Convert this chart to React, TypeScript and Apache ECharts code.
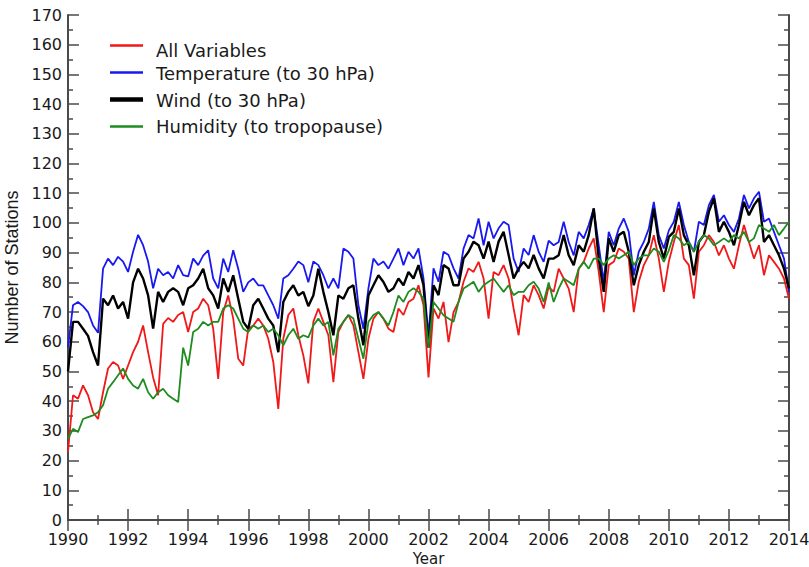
import React, { useEffect, useRef } from "react";
import * as echarts from "echarts";

// Samples every two months from 1990.0 to 2014.0
const START_YEAR = 1990;
const SAMPLES_PER_YEAR = 6;

const allVariables = [
  22.8, 42, 40.8, 45.3, 42, 36.3,
  34, 43, 51, 53.2, 52, 47.5,
  52, 56.5, 60, 65.5, 56.5, 48,
  42, 66, 68, 66.7, 69, 70,
  63.3, 70, 71.2, 74.5, 72.3, 64.4,
  47.5, 70, 75.6, 67.8, 54.3, 52,
  64.4, 65.5, 67.8, 65.5, 61, 53.2,
  37.4, 61, 69, 71.2, 62.2, 55.4,
  46, 66.7, 71.2, 66.7, 62.2, 46.4,
  63.3, 66.7, 69, 65.5, 56.5, 47.5,
  61, 67.8, 70, 67.8, 64.4, 63.3,
  71.2, 69, 73.4, 74.5, 79, 72.3,
  48, 71.2, 67.8, 73.4, 59.9, 70,
  73.4, 80.2, 84.7, 83.5, 86.9, 81.3,
  67.8, 83.5, 82.4, 85.8, 81.3, 71.2,
  62.2, 75.7, 73.4, 79, 75.7, 71.2,
  78.5, 76.8, 84.6, 81.3, 77.9, 70,
  84.6, 86.9, 91.4, 94.8, 83.5, 70,
  85.8, 86.9, 91.4, 90.3, 88, 70,
  80.2, 85.8, 89.1, 95.9, 88, 76.8,
  87, 93.6, 99.3, 88, 85.8, 74.5,
  90.3, 92.5, 95.9, 93.6, 89.1, 92.5,
  88, 84.6, 92.5, 99.3, 93.6, 88,
  92.5, 82.4, 89.1, 86.9, 84.6, 81.3,
  74.5,
];

const temperature = [
  58, 72.3, 73.4, 72, 70, 65.5,
  63, 84.6, 88, 85.8, 88.6, 87,
  83.5, 90.3, 96, 92.5, 87, 78,
  84.6, 82.4, 83.5, 81.3, 85.8, 82.4,
  82, 88, 85.8, 89, 90.8, 81.3,
  78, 88, 83.5, 90.8, 84.6, 76.8,
  80, 81.3, 79, 79, 75.6, 72.3,
  67.8, 81.3, 82.4, 84.6, 87, 85.8,
  80, 87, 85.8, 82.4, 78, 81.3,
  78, 91.4, 90.3, 88, 72.3, 64.4,
  78, 88, 85.8, 87, 84.6, 88,
  91.4, 85.8, 90.3, 88, 91.4, 81.3,
  62, 84.7, 80.2, 90.3, 89.2, 84.7,
  81.3, 91.4, 95.9, 94.8, 101.5, 92.5,
  100.4, 94.8, 98.2, 100.4, 99.3, 88,
  83.5, 91.4, 89.2, 95.9, 90.3, 86.9,
  94, 92.5, 93.6, 100.4, 93.6, 89.1,
  97, 94.8, 99.3, 104.9, 92.5, 80.2,
  97, 92.5, 98.1, 101.5, 97, 82.4,
  90.3, 93.6, 98.1, 107.1, 95.9, 91.4,
  97.5, 100.4, 107.1, 99.3, 93.6, 90.3,
  100.4, 99.3, 106, 109.4, 100.4, 102.6,
  99.3, 97, 101.5, 109.4, 104.9, 108.3,
  110.5, 100.4, 101.5, 97, 92.5, 88,
  76.8,
];

const wind = [
  50, 66.7, 66.7, 64.4, 62, 56.5,
  52, 74.5, 72.3, 75.6, 71.2, 73.4,
  67.8, 80, 84.6, 81.3, 75.6, 64.4,
  76.8, 73.4, 76.8, 78, 76.8, 72.3,
  78, 79, 81.3, 84.6, 78, 75.6,
  71.2, 81.3, 76.8, 82.4, 74.5, 66.7,
  64.4, 72.3, 74.5, 71.2, 67.8, 65.5,
  56.5, 73.4, 76.8, 79, 75.6, 76.8,
  72, 75.6, 84.6, 76.8, 70, 62.2,
  75.6, 74.5, 78, 79, 67.8, 58.8,
  75.6, 79, 82.4, 80.1, 76.8, 78,
  81.3, 79, 83.5, 81.3, 85.8, 79,
  58, 79, 75.7, 85.8, 84.7, 79,
  79, 88, 90.3, 93.7, 92.5, 88,
  93.7, 86.9, 93.7, 97, 89.2, 81.3,
  84.7, 86.9, 84.7, 89.2, 84.7, 81.3,
  88, 88, 89.1, 95.9, 89.1, 85.8,
  92.5, 90.3, 95.9, 104.9, 88, 76.8,
  94.8, 90.3, 95.9, 97, 90.3, 79,
  85.8, 90.3, 93.6, 104.9, 93.6, 88,
  95.3, 97, 104.9, 95.9, 92.5, 82.4,
  93.6, 95.9, 103.8, 108.3, 97, 100.4,
  97, 92.5, 99.3, 107.1, 102.6, 106,
  108.3, 93.6, 95.9, 92.5, 89.1, 84.6,
  77.9,
];

const humidity = [
  27.3, 30.7, 29.6, 34, 34.6, 35.2,
  36.3, 38.6, 44.2, 46.4, 48.7, 51,
  47.5, 45.3, 44.2, 47.5, 43, 40.8,
  43, 44.2, 42, 40.8, 39.7, 58,
  52, 63.3, 64.4, 66.7, 65.5, 66.7,
  66.7, 71.2, 72.3, 71.2, 67.8, 64.4,
  63.3, 65.5, 64.4, 65.5, 63.3, 64.4,
  62.2, 58.8, 62.2, 64.4, 61, 62.2,
  61.5, 65.5, 67.8, 65.5, 66.7, 55.4,
  64.4, 66.7, 69, 67.8, 61, 54.3,
  66.7, 69, 70, 67.8, 65.5, 70,
  75.6, 73.4, 76.8, 78, 76.8, 74.5,
  58, 73.4, 71.2, 68.9, 67.8, 66.7,
  73.4, 77.9, 79, 80.2, 76.8, 79,
  80.2, 81.3, 79, 76.8, 79, 75.7,
  76.8, 76.8, 79, 80.2, 77.9, 73.4,
  80, 73.4, 77.9, 81.3, 80.2, 79,
  84.6, 86.9, 84.6, 88, 88, 85.8,
  88, 89.1, 88, 89.1, 90.3, 85.8,
  88, 89.1, 89.1, 91.4, 90.3, 86.9,
  90.8, 95.9, 94.8, 92.5, 93.6, 90.3,
  93.6, 95.9, 94.8, 92.5, 93.6, 94.8,
  93.6, 95.9, 94.8, 97, 93.6, 94.8,
  99.3, 98.1, 97, 99.3, 95.9, 98.1,
  100.4,
];

const seriesNames = [
  "All Variables",
  "Temperature (to 30 hPa)",
  "Wind (to 30 hPa)",
  "Humidity (to tropopause)",
];
const seriesValues = [allVariables, temperature, wind, humidity];
const seriesColors = ["#f01818", "#1818f0", "#000000", "#1e8c1e"];
const seriesWidths = [1.8, 1.8, 2.4, 1.8];
const legendLineWidths = [2.5, 2.5, 4.5, 2.5];
const legendLineY = [45.5, 72.5, 99.5, 126.5];
const legendTextY = [50, 73.5, 100, 126];

const toPoints = (values: number[]) =>
  values.map((v, i) => [START_YEAR + i / SAMPLES_PER_YEAR, v]);

const AXIS_COLOR = "#4a4a4a";
const TEXT_COLOR = "#1a1a1a";

export default function App() {
  const ref = useRef<HTMLDivElement>(null);

  useEffect(() => {
    if (!ref.current) return;
    const chart = echarts.init(ref.current, undefined, { renderer: "svg" });

    const tickCommon = {
      axisLine: { show: true, lineStyle: { color: AXIS_COLOR, width: 2 } },
      axisTick: { show: true, inside: true, length: 11, lineStyle: { color: AXIS_COLOR, width: 1.5 } },
      minorTick: { show: true, splitNumber: 2, length: 5, lineStyle: { color: AXIS_COLOR, width: 1.5 } },
      splitLine: { show: false },
      minorSplitLine: { show: false },
    };

    const legendGraphics: any[] = [];
    seriesNames.forEach((name, i) => {
      legendGraphics.push({
        type: "line",
        shape: { x1: 110, y1: legendLineY[i], x2: 143, y2: legendLineY[i] },
        style: { stroke: seriesColors[i], lineWidth: legendLineWidths[i] },
        z: 10,
      });
      legendGraphics.push({
        type: "text",
        x: 156,
        y: legendTextY[i],
        style: {
          text: name,
          fill: TEXT_COLOR,
          font: "18px 'DejaVu Sans'",
          textVerticalAlign: "middle",
          verticalAlign: "middle",
        },
        z: 10,
      });
    });

    chart.setOption({
      animation: false,
      backgroundColor: "#ffffff",
      grid: {
        left: 68,
        right: 20,
        top: 15,
        bottom: 47,
        containLabel: false,
        outerBoundsMode: "none",
      },
      graphic: legendGraphics,
      xAxis: [
        {
          type: "value",
          min: 1990,
          max: 2014,
          interval: 2,
          position: "bottom",
          name: "Year",
          nameLocation: "middle",
          nameGap: 28.5,
          nameTextStyle: { fontFamily: "DejaVu Sans", fontSize: 15, lineHeight: 15, color: TEXT_COLOR },
          axisLabel: {
            fontFamily: "DejaVu Sans",
            fontSize: 16,
            lineHeight: 16,
            color: TEXT_COLOR,
            margin: 11,
            formatter: (v: number) => String(v),
          },
          ...tickCommon,
        },
        {
          type: "value",
          min: 1990,
          max: 2014,
          interval: 2,
          position: "top",
          axisLabel: { show: false },
          ...tickCommon,
        },
      ],
      yAxis: [
        {
          type: "value",
          min: 0,
          max: 170,
          interval: 10,
          position: "left",
          name: "Number of Stations",
          nameLocation: "middle",
          nameGap: 44,
          nameRotate: 90,
          nameTextStyle: { fontFamily: "Liberation Sans", fontSize: 18, color: TEXT_COLOR },
          axisLabel: {
            fontFamily: "DejaVu Sans",
            fontSize: 16,
            color: TEXT_COLOR,
            margin: 6,
          },
          ...tickCommon,
        },
        {
          type: "value",
          min: 0,
          max: 170,
          interval: 10,
          position: "right",
          axisLabel: { show: false },
          ...tickCommon,
        },
      ],
      series: seriesNames.map((name, i) => ({
        name,
        type: "line",
        xAxisIndex: 0,
        yAxisIndex: 0,
        data: toPoints(seriesValues[i]),
        showSymbol: false,
        symbol: "none",
        color: seriesColors[i],
        lineStyle: { color: seriesColors[i], width: seriesWidths[i] },
        z: 2 + i,
      })),
    });

    return () => chart.dispose();
  }, []);

  return <div ref={ref} style={{ width: 809, height: 567, position: "absolute", left: 0, top: 0 }} />;
}
